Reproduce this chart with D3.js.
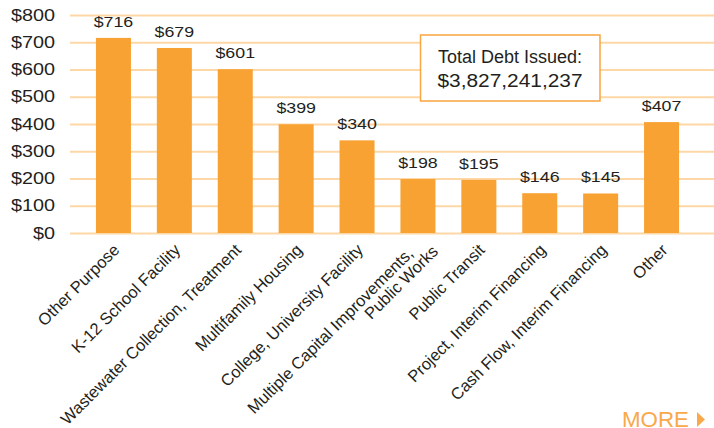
<!DOCTYPE html>
<html>
<head>
<meta charset="utf-8">
<script src="https://cdn.jsdelivr.net/npm/d3@7"></script>
<style>
  html, body { margin: 0; padding: 0; background: #fff; }
  svg { display: block; font-family: "Liberation Sans", Arial, Helvetica, sans-serif; }
</style>
</head>
<body>
<div id="chart"></div>
<script>
// Debt issued by purpose (millions of dollars)
const categories = [
  ['Other Purpose'],
  ['K-12 School Facility'],
  ['Wastewater Collection, Treatment'],
  ['Multifamily Housing'],
  ['College, University Facility'],
  ['Multiple Capital Improvements,', 'Public Works'],
  ['Public Transit'],
  ['Project, Interim Financing'],
  ['Cash Flow, Interim Financing'],
  ['Other']
];
const values = [716, 679, 601, 399, 340, 198, 195, 146, 145, 407];
const yTicks = [0, 100, 200, 300, 400, 500, 600, 700, 800];
const totalLines = ['Total Debt Issued:', '$3,827,241,237'];

const width = 714, height = 428;
const barColor = '#f8a233';
const gridColor = '#fdd8a6';
const textColor = '#231f20';

const svg = d3.select('#chart')
  .append('svg')
  .attr('width', width)
  .attr('height', height);

const x = d3.scaleBand()
  .domain(d3.range(values.length))
  .range([83, 692])
  .paddingInner(0.425)
  .paddingOuter(0.2125);

const y = d3.scaleLinear()
  .domain([0, 800])
  .range([233, 15]);

// Gridlines + tick labels
const yAxis = svg.append('g')
  .attr('transform', 'translate(70,0)')
  .call(d3.axisLeft(y).tickValues(yTicks).tickSize(0).tickPadding(0).tickFormat(d => '$' + d));

yAxis.select('.domain').remove();
yAxis.selectAll('.tick line')
  .attr('x2', width - 70)
  .attr('stroke', gridColor)
  .attr('stroke-width', 2);
yAxis.selectAll('.tick text')
  .attr('x', -15 / 1.24)
  .attr('transform', 'scale(1.24,1)')
  .attr('fill', textColor)
  .style('font-size', '16px')
  .style('font-family', '"Liberation Sans", Arial, sans-serif');

// Bars
svg.append('g')
  .selectAll('rect')
  .data(values)
  .join('rect')
  .attr('x', (d, i) => x(i))
  .attr('y', d => y(d))
  .attr('width', x.bandwidth())
  .attr('height', d => y(0) - y(d))
  .attr('fill', barColor);

// Value labels
svg.append('g')
  .selectAll('text')
  .data(values)
  .join('text')
  .attr('transform', (d, i) => `translate(${x(i) + x.bandwidth() / 2},${y(d) - 11}) scale(1.27,1)`)
  .attr('text-anchor', 'middle')
  .attr('fill', textColor)
  .style('font-size', '14px')
  .text(d => '$' + d);

// Category labels, rotated
const cats = svg.append('g')
  .selectAll('text')
  .data(categories)
  .join('text')
  .attr('transform', (d, i) => `translate(${x(i) + x.bandwidth() / 2 + 7},251) rotate(-45)`)
  .attr('text-anchor', 'end')
  .attr('fill', textColor)
  .style('font-size', '16.5px');

cats.each(function (lines) {
  const t = d3.select(this);
  if (lines.length === 1) {
    t.text(lines[0]);
  } else {
    t.append('tspan').attr('x', -10).attr('y', -5).text(lines[0]);
    t.append('tspan').attr('x', 9).attr('y', 11).text(lines[1]);
  }
});

// Total box
const box = svg.append('g');
box.append('rect')
  .attr('x', 420.5)
  .attr('y', 35)
  .attr('width', 179.5)
  .attr('height', 66)
  .attr('fill', '#fff')
  .attr('stroke', '#f9a540')
  .attr('stroke-width', 1.5);
box.selectAll('text')
  .data(totalLines)
  .join('text')
  .attr('x', 510)
  .attr('y', (d, i) => 63 + i * 24)
  .attr('text-anchor', 'middle')
  .attr('fill', textColor)
  .style('font-size', '18px')
  .attr('textLength', (d, i) => i === 0 ? null : 145)
  .attr('lengthAdjust', 'spacingAndGlyphs')
  .text(d => d);

// MORE link
const more = svg.append('g').attr('fill', '#f9a94b');
more.append('text')
  .attr('x', 622)
  .attr('y', 426.5)
  .style('font-size', '21.5px')
  .attr('textLength', 67)
  .attr('lengthAdjust', 'spacingAndGlyphs')
  .text('MORE');
more.append('path')
  .attr('d', 'M697,412 L705,419.5 L697,427 Z');
</script>
</body>
</html>
